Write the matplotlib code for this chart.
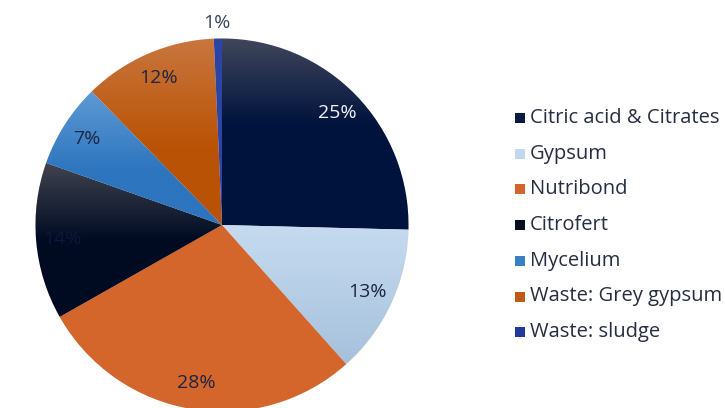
import numpy as np
import matplotlib
matplotlib.use("Agg")
import matplotlib.pyplot as plt
from matplotlib.colors import to_rgb
from matplotlib.patches import Rectangle

labels = ["Citric acid & Citrates", "Gypsum", "Nutribond", "Citrofert",
          "Mycelium", "Waste: Grey gypsum", "Waste: sludge"]
values = [25.4, 13.0, 28.4, 13.6, 7.3, 11.6, 0.7]

# (top colour, bottom colour, fraction of height where bottom colour is reached)
grads = [("#41465b", "#00133d", 0.45),
         ("#c6dbf0", "#a6c1dc", 1.0),
         ("#d4662c", "#d4662c", 1.0),
         ("#41434f", "#000b22", 0.5),
         ("#5e99d4", "#2d75bf", 0.6),
         ("#c9763f", "#b95204", 0.6),
         ("#2a45a5", "#2a45a5", 1.0)]
legend_colors = ["#0c1a42", "#c2d8ee", "#d4662c", "#0a0f20", "#3a80c6", "#bf5a14", "#1f3a9c"]
pct_colors = ["#f2f3f7", "#1d2540", "#1d2540", "#0c1838", "#1d2540", "#1d2540", "#3b4560"]

plt.rcParams['font.family'] = ['Open Sans', 'DejaVu Sans']

W, H = 725, 408
fig = plt.figure(figsize=(W / 100, H / 100), dpi=100)
ax = fig.add_axes([0, 0, 1, 1])
cx, cy, R = 222, H - 225, 186.5

wedges, texts, autotexts = ax.pie(
    values, startangle=90, counterclock=False, center=(cx, cy), radius=R,
    autopct=lambda p: f"{round(p)}%", pctdistance=0.86,
    wedgeprops=dict(linewidth=0.6, edgecolor="white"),
    textprops=dict(fontsize=14, zorder=10))

for w, (ctop, cbot, frac) in zip(wedges, grads):
    t1, t2 = np.deg2rad(w.theta1), np.deg2rad(w.theta2)
    ang = np.linspace(t1, t2, 200)
    xs = np.concatenate([[cx], cx + R * np.cos(ang)])
    ys = np.concatenate([[cy], cy + R * np.sin(ang)])
    x0, x1, y0, y1 = xs.min(), xs.max(), ys.min(), ys.max()
    n = 256
    t = np.linspace(0, 1, n)  # 0 = bottom, 1 = top
    d = np.clip((1 - t) / frac, 0, 1)  # 0 at top, 1 when bottom reached
    a, b = np.array(to_rgb(ctop)), np.array(to_rgb(cbot))
    col = a[None, :] * (1 - d[:, None]) + b[None, :] * d[:, None]
    img = np.repeat(col[:, None, :], 2, axis=1)
    im = ax.imshow(img, extent=[x0, x1, y0, y1], origin="lower",
                   interpolation="bilinear", aspect="auto", zorder=2)
    im.set_clip_path(w)
    w.set_zorder(1)

for at, c in zip(autotexts, pct_colors):
    at.set_color(c)
# smallest slice label sits outside the pie
autotexts[-1].set_position((cx - 5, H - 23))

ax.set_xlim(0, W)
ax.set_ylim(0, H)
ax.set_aspect("equal")
ax.axis("off")

# legend
ly0, dy = H - 118, 35.7
for i, (lab, c) in enumerate(zip(labels, legend_colors)):
    y = ly0 - i * dy
    ax.add_patch(Rectangle((515, y - 5), 10, 10, facecolor=c, edgecolor="none", zorder=5))
    ax.text(530, y, lab, fontsize=14.5, color="#262d42", va="center", ha="left", zorder=5)

fig.savefig("out.png", dpi=100)
